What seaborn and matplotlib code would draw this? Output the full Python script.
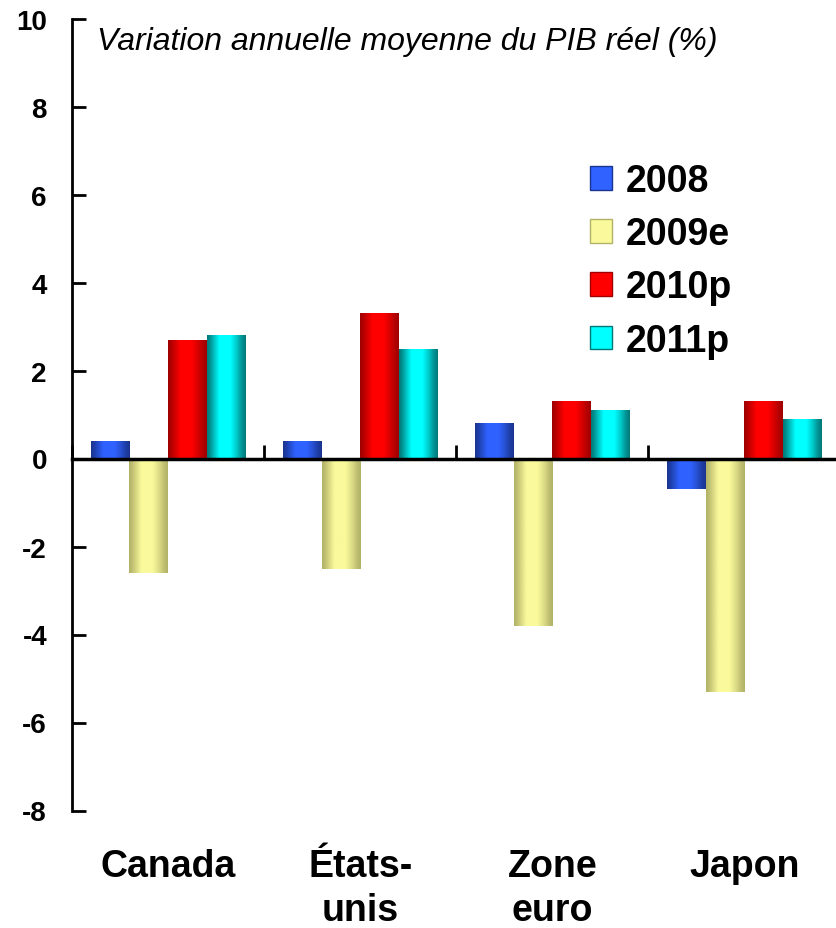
import numpy as np
import pandas as pd
import matplotlib
matplotlib.use("Agg")
import matplotlib.pyplot as plt
import seaborn as sns
from matplotlib.colors import to_rgb

# ---- data ----
categories = ["Canada", "États-\nunis", "Zone\neuro", "Japon"]
series = ["2008", "2009e", "2010p", "2011p"]
v2008 = [0.4, 0.4, 0.8, -0.7]
v2009e = [-2.6, -2.5, -3.8, -5.3]
v2010p = [2.7, 3.3, 1.3, 1.3]
v2011p = [2.8, 2.5, 1.1, 0.9]
yticks = [-8, -6, -4, -2, 0, 2, 4, 6, 8, 10]
subtitle = "Variation annuelle moyenne du PIB réel (%)"

mid_colors = {"2008": "#2F62FF", "2009e": "#FAFA9C", "2010p": "#FF0000", "2011p": "#00FFFF"}
edge_colors = {"2008": "#1A3590", "2009e": "#B2B268", "2010p": "#A00000", "2011p": "#007878"}

sns.set_theme(style="white")
plt.rcParams["font.family"] = ["Liberation Sans", "DejaVu Sans"]
plt.rcParams["text.color"] = "black"
plt.rcParams["xtick.color"] = "black"
plt.rcParams["ytick.color"] = "black"
plt.rcParams["axes.labelcolor"] = "black"

df = pd.DataFrame({
    "pays": categories * 4,
    "serie": np.repeat(series, 4),
    "valeur": v2008 + v2009e + v2010p + v2011p,
})

fig = plt.figure(figsize=(8.37, 9.29), dpi=100)
ax = fig.add_axes([72 / 837, 1 - 811.5 / 929, 768.5 / 837, 792 / 929])

sns.barplot(data=df, x="pays", y="valeur", hue="serie", hue_order=series,
            order=categories, palette=mid_colors, width=0.805, saturation=1,
            errorbar=None, ax=ax, linewidth=0)

# gradient shading on each bar (dark edges, bright centre)
color_to_series = {tuple(np.round(to_rgb(c), 3)): s for s, c in mid_colors.items()}
t = np.linspace(0, 1, 80)
prof = np.interp(t, [0, 0.08, 0.2, 0.32, 0.6, 0.75, 0.9, 1.0],
                 [0.0, 0.2, 0.6, 1.0, 1.0, 0.65, 0.2, 0.0])
for p in list(ax.patches):
    w, h = p.get_width(), p.get_height()
    if w == 0 or h == 0:
        continue
    key = tuple(np.round(p.get_facecolor()[:3], 3))
    s = color_to_series.get(key)
    if s is None:
        continue
    c0 = np.array(to_rgb(edge_colors[s]))
    c1 = np.array(to_rgb(mid_colors[s]))
    grad = c0[None, :] + (c1 - c0)[None, :] * prof[:, None]
    img = grad[None, :, :]
    x0 = p.get_x()
    y0 = p.get_y()
    im = ax.imshow(img, extent=[x0, x0 + w, min(y0, y0 + h), max(y0, y0 + h)],
                   aspect="auto", interpolation="bilinear", zorder=p.get_zorder() + 0.1)
    im.set_clip_path(p)

ax.set_xlim(-0.5, 3.5)
ax.set_ylim(-8, 10)
ax.set_xlabel("")
ax.set_ylabel("")

# spines
ax.spines["top"].set_visible(False)
ax.spines["right"].set_visible(False)
ax.spines["bottom"].set_position(("data", 0))
ax.spines["bottom"].set_linewidth(2.5)
ax.spines["bottom"].set_color("black")
ax.spines["bottom"].set_zorder(5)
ax.spines["left"].set_linewidth(2)
ax.spines["left"].set_color("black")

ax.set_yticks(yticks)
ax.set_yticklabels([str(v) for v in yticks], fontweight="bold")
ax.tick_params(axis="y", direction="in", length=10, width=2, labelsize=20, pad=18,
               left=True, colors="black")

ax.set_xticks([-0.5, 0.5, 1.5, 2.5, 3.5])
ax.set_xticklabels([])
ax.tick_params(axis="x", direction="in", length=10, width=2, bottom=True, colors="black")

sec = ax.secondary_xaxis(0)
sec.set_xticks(range(len(categories)))
sec.set_xticklabels(categories, fontweight="bold", fontsize=27, linespacing=1.28,
                    color="black")
sec.tick_params(length=0, pad=27)
sec.spines["bottom"].set_visible(False)

# legend
handles, labels = ax.get_legend_handles_labels()
for hnd, lab in zip(handles, labels):
    hnd.set_facecolor(mid_colors[lab])
    hnd.set_edgecolor(edge_colors[lab])
    hnd.set_linewidth(1)
ax.legend(handles, labels, loc="upper left", bbox_to_anchor=(590 / 837, 1 - 164 / 929),
          bbox_transform=fig.transFigure, frameon=False,
          prop=dict(weight="bold", size=27), handlelength=0.6, handleheight=0.6,
          handletextpad=0.35, labelspacing=0.46, borderpad=0, borderaxespad=0)

fig.text(97 / 837, 1 - 42 / 929, subtitle, style="italic", fontsize=23, va="center",
         ha="left", color="black")

fig.savefig("out.png", dpi=100, facecolor="white")
